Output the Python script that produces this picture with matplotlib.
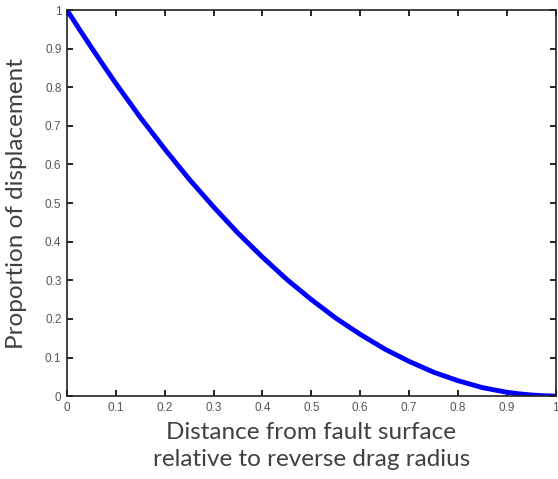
import matplotlib.pyplot as plt

# values
distance = [0.000, 0.025, 0.050, 0.075, 0.100, 0.125, 0.150, 0.175, 0.200, 0.225,
            0.250, 0.275, 0.300, 0.325, 0.350, 0.375, 0.400, 0.425, 0.450, 0.475,
            0.500, 0.525, 0.550, 0.575, 0.600, 0.625, 0.650, 0.675, 0.700, 0.725,
            0.750, 0.775, 0.800, 0.825, 0.850, 0.875, 0.900, 0.925, 0.950, 0.975,
            1.000]
proportion = [1.000, 0.951, 0.903, 0.856, 0.810, 0.766, 0.722, 0.681, 0.640, 0.601,
              0.562, 0.526, 0.490, 0.456, 0.422, 0.391, 0.360, 0.331, 0.302, 0.276,
              0.250, 0.226, 0.202, 0.181, 0.160, 0.141, 0.122, 0.106, 0.090, 0.076,
              0.062, 0.051, 0.040, 0.031, 0.022, 0.016, 0.010, 0.006, 0.003, 0.001,
              0.000]
ticks = [0, 0.1, 0.2, 0.3, 0.4, 0.5, 0.6, 0.7, 0.8, 0.9, 1]
tick_labels = ["0", "0.1", "0.2", "0.3", "0.4", "0.5", "0.6", "0.7", "0.8", "0.9", "1"]

fig = plt.figure(figsize=(5.58, 4.79), dpi=100)
ax = fig.add_axes([0.120, 0.173, 0.876, 0.806])

ax.plot(distance, proportion, color="#0000ff", linewidth=3.5, solid_capstyle="butt")
ax.set_xlim(0, 1)
ax.set_ylim(0, 1)

ax.set_xticks(ticks)
ax.set_xticklabels(tick_labels)
ax.set_yticks(ticks)
ax.set_yticklabels(tick_labels)
ax.tick_params(direction="in", length=4, width=1.2, top=True, right=True,
               labelsize=8.5, labelcolor="#555555", pad=4)
for lbl in ax.get_xticklabels() + ax.get_yticklabels():
    lbl.set_family("Liberation Sans")
for s in ax.spines.values():
    s.set_linewidth(1.2)
    s.set_color("#222222")

label_font = dict(family="Lato", size=17.5, color="#404040")
ax.set_ylabel("Proportion of displacement", va="center", **label_font)
ax.set_xlabel("Distance from fault surface\nrelative to reverse drag radius",
              va="center", linespacing=1.35, **label_font)
ax.yaxis.set_label_coords(-0.104, 0.5)
ax.xaxis.set_label_coords(0.5, -0.13)

fig.savefig("out.png", dpi=100)
